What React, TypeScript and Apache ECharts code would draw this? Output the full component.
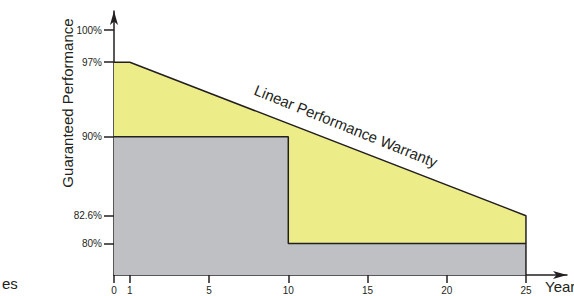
import React, { useEffect, useRef } from "react";
import * as echarts from "echarts";

// Schematic x-axis units (the reference's year ticks are not evenly spaced)
const xTickPos = [0, 1, 6, 11, 16, 21, 26];
const xTickLabels = ["0", "1", "5", "10", "15", "20", "25"];
const yTicks = [80, 82.6, 90, 97, 100];

// Linear performance warranty (yellow)
const warrantyX = [0, 1, 26, 26];
const warrantyY = [97, 97, 82.6, 80];

// Step guarantee (grey)
const stepX = [0, 11, 11, 26, 26];
const stepY = [90, 90, 80, 80, 77.04];

const Y_MIN = 77.04;
const Y_MAX = 101.8;
const X_MAX = 28.59;

const INK = "#231F20";
const FONT = '"Liberation Sans", Arial, sans-serif';

export default function App() {
  const ref = useRef<HTMLDivElement>(null);
  useEffect(() => {
    document.body.style.margin = "0";
    const chart = echarts.init(ref.current!, null, { renderer: "svg" });
    const zip = (xs: number[], ys: number[]) => xs.map((x, i) => [x, ys[i]]);
    chart.setOption({
      animation: false,
      grid: { left: 114, right: 7, top: 11, bottom: 21, containLabel: false, outerBoundsMode: "none" },
      xAxis: {
        type: "value",
        min: 0,
        max: X_MAX,
        splitLine: { show: false },
        axisLine: {
          show: true,
          onZero: false,
          symbol: ["none", "arrow"],
          symbolSize: [6, 14],
          lineStyle: { color: INK, width: 1.5 },
        },
        axisTick: { show: true, customValues: xTickPos, length: 8, lineStyle: { color: INK, width: 1.5 } },
        axisLabel: {
          customValues: xTickPos,
          formatter: (v: number) => xTickLabels[xTickPos.indexOf(v)] ?? "",
          margin: 10,
          fontSize: 10,
          fontFamily: FONT,
          color: INK,
        },
      },
      yAxis: {
        type: "value",
        min: Y_MIN,
        max: Y_MAX,
        splitLine: { show: false },
        axisLine: {
          show: true,
          onZero: false,
          symbol: ["none", "arrow"],
          symbolSize: [6, 14],
          lineStyle: { color: INK, width: 1.5 },
        },
        axisTick: { show: true, customValues: yTicks, length: 10, lineStyle: { color: INK, width: 1.5 } },
        axisLabel: {
          customValues: yTicks,
          formatter: (v: number) => `${v}%`,
          margin: 12,
          fontSize: 10,
          fontFamily: FONT,
          color: INK,
        },
      },
      series: [
        {
          type: "line",
          data: zip(warrantyX, warrantyY),
          showSymbol: false,
          lineStyle: { color: INK, width: 1.5 },
          areaStyle: { color: "#ECEC88", opacity: 1, origin: "start" },
          z: 2,
        },
        {
          type: "line",
          data: zip(stepX, stepY),
          showSymbol: false,
          lineStyle: { color: INK, width: 1.5 },
          areaStyle: { color: "#BEC0C3", opacity: 1, origin: "start" },
          z: 3,
        },
      ],
      graphic: [
        {
          type: "text",
          x: 67,
          y: 103,
          rotation: Math.PI / 2,
          style: { text: "Guaranteed Performance", fontSize: 15, fontFamily: FONT, fill: INK, align: "center", verticalAlign: "middle" },
        },
        {
          type: "text",
          x: 346,
          y: 126,
          rotation: -0.384,
          z: 10,
          style: { text: "Linear Performance Warranty", fontSize: 15, fontFamily: FONT, fill: INK, align: "center", verticalAlign: "middle" },
        },
        {
          type: "text",
          x: 545,
          y: 286,
          style: { text: "Years", fontSize: 15, fontFamily: FONT, fill: INK, align: "left", verticalAlign: "middle" },
        },
        {
          type: "text",
          x: 2,
          y: 283,
          style: { text: "es", fontSize: 15, fontFamily: FONT, fill: INK, align: "left", verticalAlign: "middle" },
        },
      ],
    });
    return () => chart.dispose();
  }, []);
  return <div ref={ref} style={{ width: 574, height: 296 }} />;
}
